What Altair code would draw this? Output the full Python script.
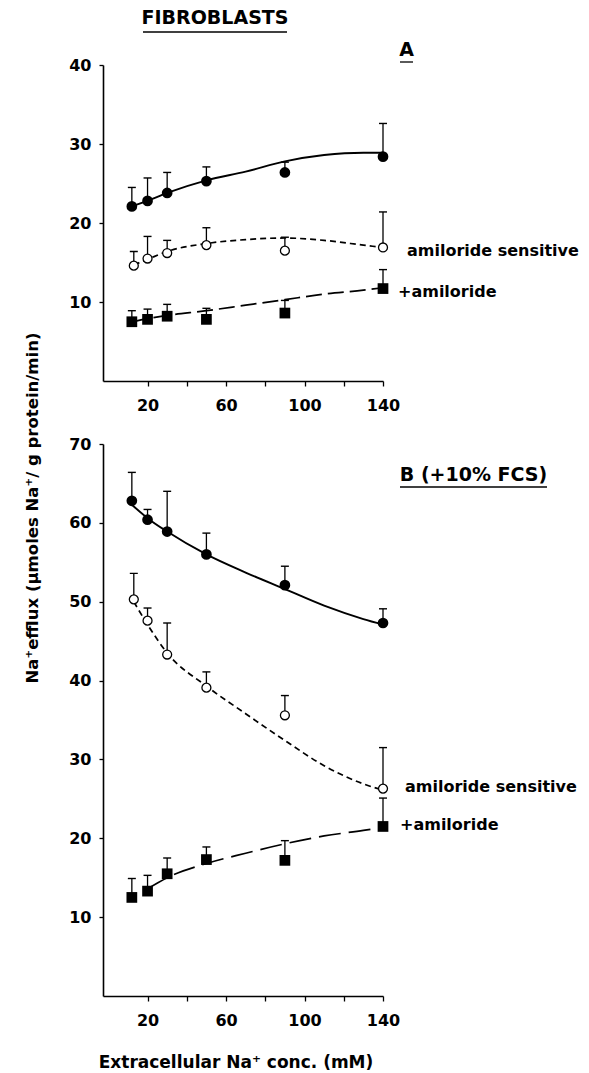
import altair as alt
import pandas as pd

# ---------------- data ----------------
conc = [12, 20, 30, 50, 90, 140]          # extracellular Na+ (mM)
conc_open = [13, 20, 30, 50, 90, 140]

# Panel A (fibroblasts)
a_total = [22.1, 22.8, 23.8, 25.3, 26.4, 28.4]
a_total_err = [24.5, 25.7, 26.4, 27.1, 27.7, 32.6]
a_sens = [14.6, 15.5, 16.2, 17.2, 16.5, 16.9]
a_sens_err = [16.4, 18.3, 17.8, 19.4, 18.2, 21.4]
a_amil = [7.5, 7.8, 8.2, 7.8, 8.6, 11.7]
a_amil_err = [8.9, 9.1, 9.7, 9.2, 10.2, 14.1]

fit_x = [12, 20, 30, 50, 70, 90, 110, 130, 140]
fit_x_open = [13, 20, 30, 50, 70, 90, 110, 130, 140]
a_total_fit = [22.1, 22.8, 23.8, 25.4, 26.5, 27.8, 28.6, 28.9, 28.9]
a_sens_fit = [14.7, 15.4, 16.4, 17.4, 17.9, 18.1, 17.8, 17.2, 16.9]
a_amil_fit = [7.5, 7.9, 8.3, 8.9, 9.6, 10.3, 11.0, 11.5, 11.8]

# Panel B (+10% FCS)
b_total = [62.8, 60.4, 58.9, 56.0, 52.1, 47.3]
b_total_err = [66.4, 61.7, 64.0, 58.7, 54.5, 49.1]
b_sens = [50.3, 47.6, 43.3, 39.1, 35.6, 26.3]
b_sens_err = [53.6, 49.2, 47.3, 41.1, 38.1, 31.5]
b_amil = [12.5, 13.3, 15.5, 17.3, 17.2, 21.5]
b_amil_err = [14.9, 15.3, 17.5, 18.9, 19.7, 25.1]

fit_x_b_amil = [20, 30, 50, 70, 90, 110, 130, 140]
b_total_fit = [62.3, 60.6, 58.9, 56.0, 53.7, 51.6, 49.5, 47.8, 47.1]
b_sens_fit = [50.0, 47.1, 43.5, 39.3, 35.8, 32.4, 29.2, 26.9, 26.1]
b_amil_fit = [13.6, 15.0, 16.8, 18.1, 19.3, 20.3, 21.0, 21.4]

x_ticks = [20, 40, 60, 80, 100, 120, 140]
a_y_ticks = [10, 20, 30, 40]
b_y_ticks = [10, 20, 30, 40, 50, 60, 70]

FONT = "DejaVu Sans"
W = 280
ONE = pd.DataFrame({"k": [0]})


def txt(text, x, y, size=16, weight="bold", align="left", angle=0):
    return alt.Chart(ONE).mark_text(
        text=text, font=FONT, fontSize=size, fontWeight=weight, color="black",
        align=align, baseline="middle", angle=angle,
    ).encode(x=alt.value(x), y=alt.value(y))


def uline(x1, x2, y):
    return alt.Chart(ONE).mark_rule(color="black", strokeWidth=1.3).encode(
        x=alt.value(x1), x2=alt.value(x2), y=alt.value(y))


def panel(total, total_err, sens, sens_err, amil, amil_err,
          total_fit, sens_fit, amil_fit, amil_fit_x, ymax, yticks, height,
          amil_dash, extra):
    pts = pd.DataFrame({
        "x": conc + conc_open + conc,
        "y": total + sens + amil,
        "err": total_err + sens_err + amil_err,
        "s": ["total"] * 6 + ["sens"] * 6 + ["amil"] * 6,
    })
    fit = pd.DataFrame({
        "x": fit_x + fit_x_open + amil_fit_x,
        "y": total_fit + sens_fit + amil_fit,
        "s": ["total"] * len(total_fit) + ["sens"] * len(sens_fit)
        + ["amil"] * len(amil_fit),
    })
    xs = alt.Scale(domain=[-2.7, 140], nice=False, zero=False)
    ys = alt.Scale(domain=[0, ymax], nice=False, zero=False)
    xax = alt.Axis(values=x_ticks, grid=False,
                   labelExpr="datum.value % 40 == 20 ? datum.label : ''",
                   domainColor="black", domainWidth=1.6, tickColor="black",
                   tickWidth=1.3, tickSize=5, labelPadding=11,
                   labelFont=FONT, labelFontSize=16, labelFontWeight="bold",
                   labelColor="black", labelFlush=False)
    yax = alt.Axis(values=yticks, grid=False,
                   domainColor="black", domainWidth=1.6, tickColor="black",
                   tickWidth=1.3, tickSize=4, labelPadding=8,
                   labelFont=FONT, labelFontSize=16, labelFontWeight="bold",
                   labelColor="black", labelFlush=False)
    X = alt.X("x:Q", scale=xs, axis=xax, title=None)
    Y = alt.Y("y:Q", scale=ys, axis=yax, title=None)
    Yerr = alt.Y("err:Q", scale=ys, axis=yax, title=None)

    base_fit = alt.Chart(fit)
    l_total = base_fit.transform_filter("datum.s == 'total'").mark_line(
        color="black", strokeWidth=1.9, interpolate="monotone").encode(x=X, y=Y)
    l_sens = base_fit.transform_filter("datum.s == 'sens'").mark_line(
        color="black", strokeWidth=1.7, strokeDash=[6, 4],
        interpolate="monotone").encode(x=X, y=Y)
    l_amil = base_fit.transform_filter("datum.s == 'amil'").mark_line(
        color="black", strokeWidth=1.7, strokeDash=amil_dash,
        interpolate="monotone").encode(x=X, y=Y)

    base = alt.Chart(pts)
    rules = base.mark_rule(color="black", strokeWidth=1.3).encode(
        x=X, y=Y, y2=alt.Y2("err:Q"))
    caps = base.mark_tick(color="black", orient="horizontal", size=8,
                          thickness=1.4, opacity=1).encode(x=X, y=Yerr)
    p_total = base.transform_filter("datum.s == 'total'").mark_point(
        shape="circle", filled=True, color="black", size=115, opacity=1
    ).encode(x=X, y=Y)
    p_sens = base.transform_filter("datum.s == 'sens'").mark_point(
        shape="circle", fill="white", fillOpacity=1, stroke="black",
        strokeWidth=1.3, size=80, opacity=1).encode(x=X, y=Y)
    p_amil = base.transform_filter("datum.s == 'amil'").mark_point(
        shape="square", filled=True, color="black", size=115, opacity=1
    ).encode(x=X, y=Y)

    layers = [l_total, l_sens, l_amil, rules, caps, p_total, p_sens, p_amil] + extra
    return alt.layer(*layers).properties(width=W, height=height)


# panel A annotations (pixel offsets from the plot's top-left corner)
frame = alt.Chart(ONE).mark_rect(opacity=0).encode(
    x=alt.value(-103), x2=alt.value(486), y=alt.value(-65), y2=alt.value(1008))
extra_a = [
    frame,
    txt("FIBROBLASTS", 112, -47, size=19, align="center"),
    uline(40, 184, -33),
    txt("A", 303.5, -15, size=19, align="center"),
    uline(297, 310, -3),
    txt("amiloride sensitive", 304, 186),
    txt("+amiloride", 295, 227),
]
extra_b = [
    txt("B (+10% FCS)", 370.5, 31, size=19, align="center"),
    uline(297, 444, 43),
    txt("amiloride sensitive", 302, 343),
    txt("+amiloride", 297, 381),
    txt("Extracellular Na\u207a conc. (mM)", 133, 619, size=17, align="center"),
    txt("Na\u207aefflux (\u00b5moles Na\u207a/ g protein/min)", -70, 64,
        size=16.5, align="center", angle=270),
]

top = panel(a_total, a_total_err, a_sens, a_sens_err, a_amil, a_amil_err,
            a_total_fit, a_sens_fit, a_amil_fit, fit_x, 40, a_y_ticks, 316,
            [16, 6], extra_a)
bottom = panel(b_total, b_total_err, b_sens, b_sens_err, b_amil, b_amil_err,
               b_total_fit, b_sens_fit, b_amil_fit, fit_x_b_amil, 70, b_y_ticks,
               552, [22, 8], extra_b)

chart = alt.vconcat(top, bottom, spacing=63, bounds="flush").properties(
    padding=0, background="white"
).configure_view(stroke=None)

chart.save("out.html", embed_options={"renderer": "svg", "actions": False})
